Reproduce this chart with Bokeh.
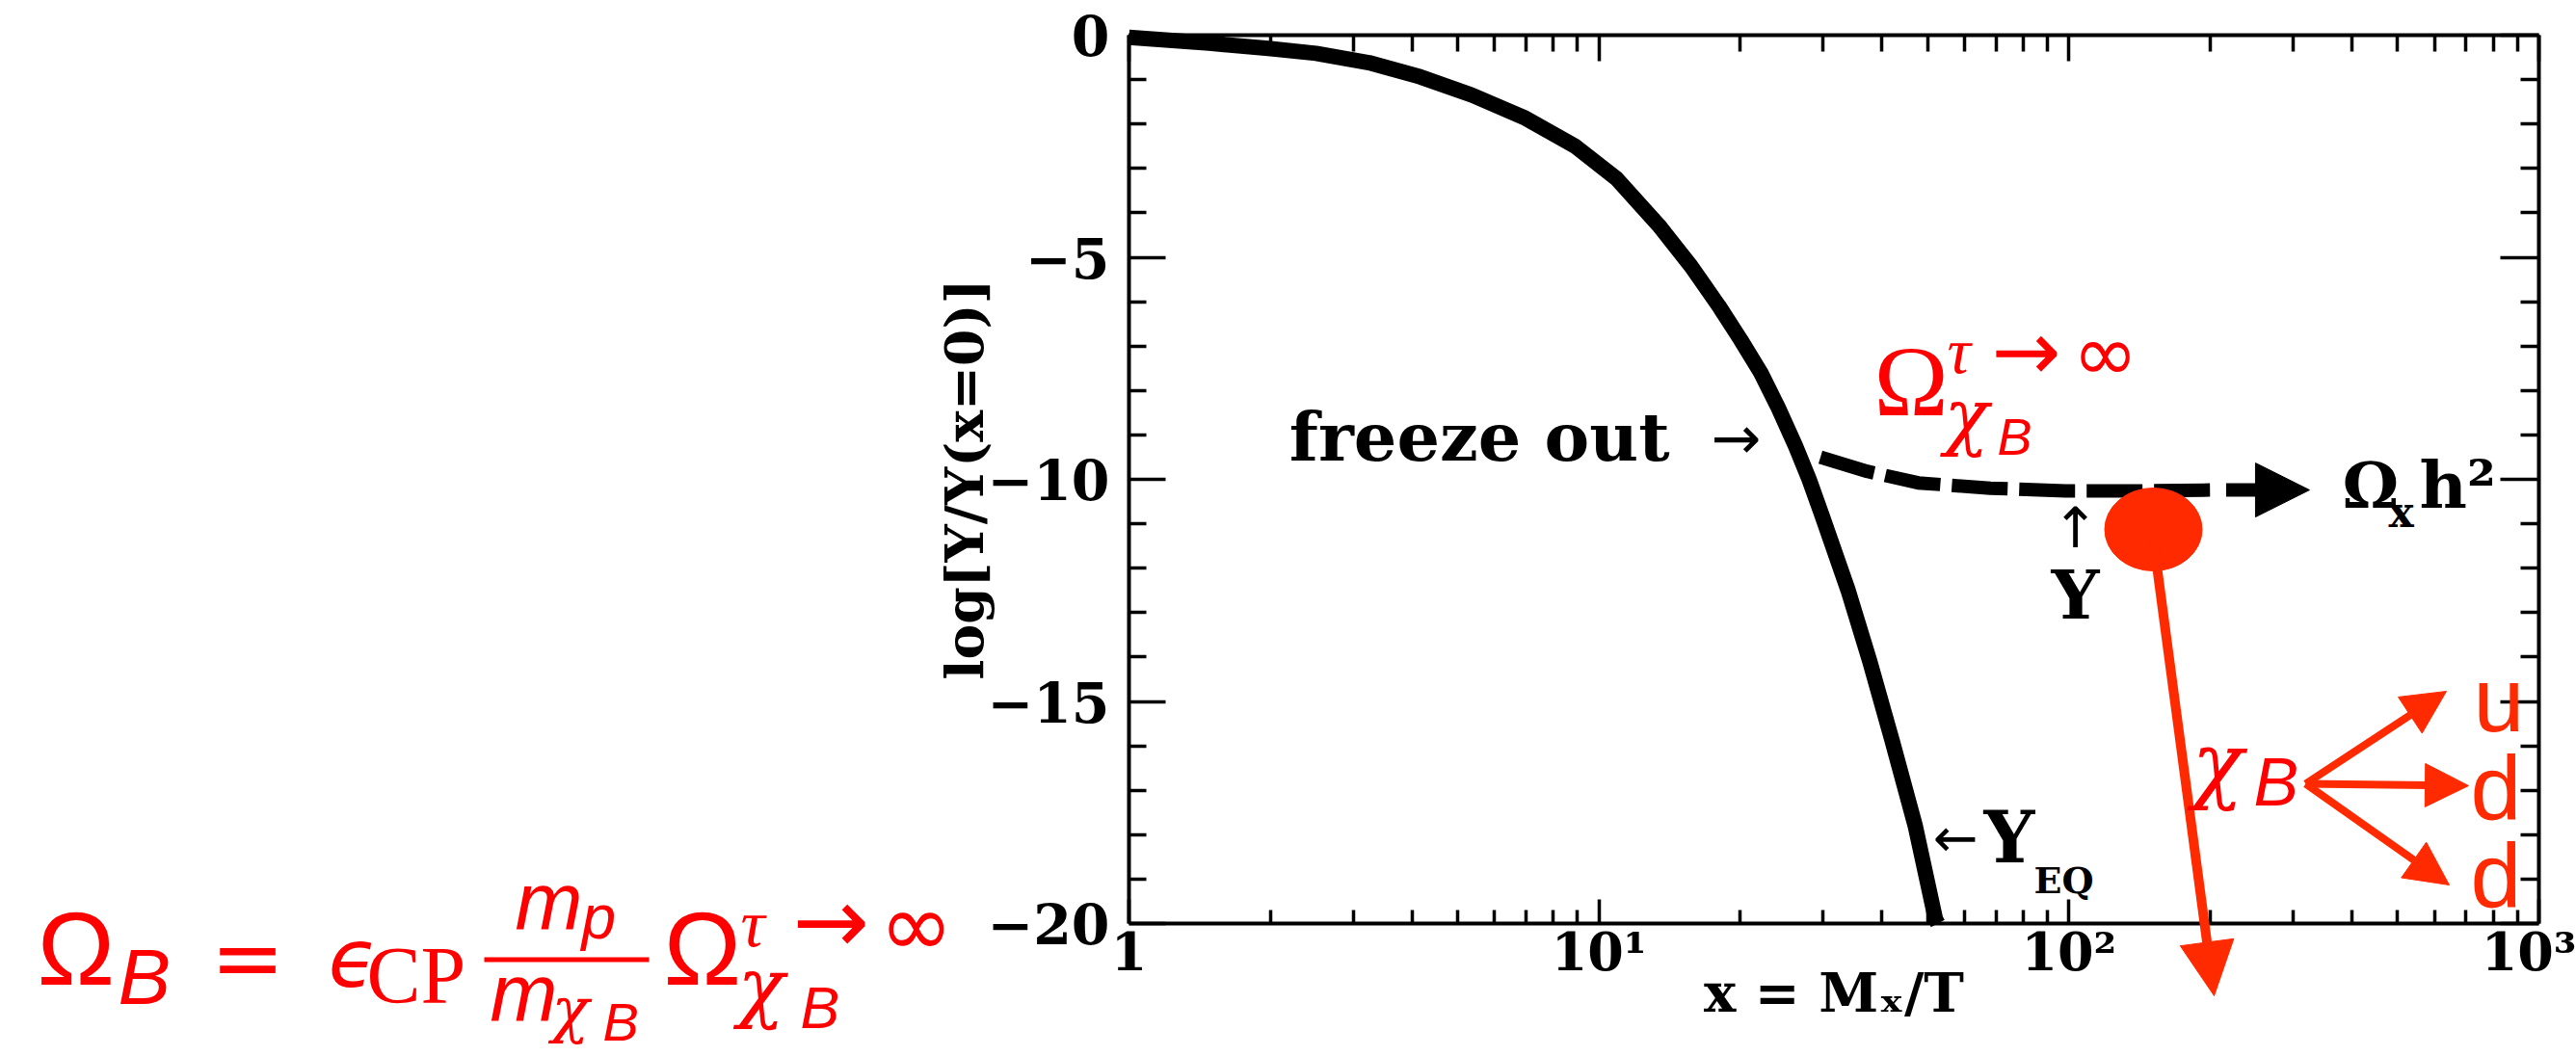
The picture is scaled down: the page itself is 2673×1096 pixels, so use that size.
from bokeh.plotting import figure
from bokeh.models import (Range1d, LogAxis, LinearAxis, FixedTicker, Label, Arrow,
                          NormalHead, BoxAnnotation)
from bokeh.embed import file_html
from bokeh.resources import INLINE

# ---------------- data ----------------
# equilibrium abundance Y_EQ : x = M/T , log[Y/Y(x=0)]
x_eq = [1.0, 1.48, 1.98, 2.5, 3.24, 4.17, 5.37, 6.92, 8.9, 10.9, 13.4, 15.7,
        18.0, 20.0, 22.1, 24.1, 26.2, 28.0, 29.8, 33.9, 37.7, 42.1, 47.1, 52.0, 52.6]
y_eq = [-0.05, -0.18, -0.30, -0.41, -0.62, -0.94, -1.35, -1.85, -2.5, -3.23, -4.28, -5.2,
        -6.1, -6.85, -7.6, -8.4, -9.25, -10.0, -10.8, -12.5, -14.1, -15.9, -17.8, -19.9, -20.0]
# actual abundance Y after freeze out (dashed)
x_y = [29.6, 37.2, 47.8, 68.1, 98.4, 141.6, 203.0]
y_y = [-9.5, -9.82, -10.08, -10.2, -10.26, -10.26, -10.24]
# arrow head of the dashed curve (x start, x tip)
x_arrow = [216.0, 325.0]

x_ticks = [1, 10, 100, 1000]
x_tick_labels = ["1", "10¹", "10²", "10³"]
x_minor = [2, 3, 4, 5, 6, 7, 8, 9, 20, 30, 40, 50, 60, 70, 80, 90,
           200, 300, 400, 500, 600, 700, 800, 900]
y_ticks = [-20, -15, -10, -5, 0]
y_tick_labels = ["−20", "−15", "−10", "−5", "0"]
y_minor = [-19, -18, -17, -16, -14, -13, -12, -11, -9, -8, -7, -6, -4, -3, -2, -1]

# ---------------- layout helpers ----------------
W, H = 2673, 1096
FL, FR, FT, FB = 1171, 2634, 36, 958
DEC = (FR - FL) / 3.0
UNIT = (FB - FT) / 20.0
K = 0.36   # label baseline correction (fraction of font size)


def X(px):
    return 10 ** ((px - FL) / DEC)


def Y(py):
    return -(py - FT) / UNIT


RED = "#FF0000"
RED2 = "#FF2A00"
SERIF = "DejaVu Serif"

p = figure(width=W, height=H, x_axis_type="log",
           x_range=Range1d(X(0), X(W)), y_range=Range1d(Y(H), Y(0)),
           x_axis_location=None, y_axis_location=None,
           output_backend="svg", toolbar_location=None, min_border=0)
p.outline_line_color = None
p.background_fill_color = "white"
p.border_fill_color = "white"
for g in p.grid:
    g.visible = False


def style(ax, major_in, minor_in, labels=True, size=54):
    ax.axis_line_width = 4
    ax.axis_line_color = "black"
    ax.major_tick_line_width = 3.5
    ax.minor_tick_line_width = 3.5
    ax.major_tick_line_color = "black"
    ax.minor_tick_line_color = "black"
    ax.major_tick_out = 0
    ax.minor_tick_out = 0
    ax.major_tick_in = major_in
    ax.minor_tick_in = minor_in
    ax.major_label_text_font = SERIF
    ax.major_label_text_font_style = "bold"
    ax.major_label_text_font_size = f"{size}px"
    ax.major_label_text_color = "black" if labels else None


xt = FixedTicker(ticks=x_ticks, minor_ticks=x_minor)
yt = FixedTicker(ticks=y_ticks, minor_ticks=y_minor)

bottom = LogAxis(fixed_location=-20, bounds=(1, 1000), ticker=xt,
                 major_label_overrides=dict(zip(x_ticks, x_tick_labels)),
                 major_label_standoff=-3,
                 axis_label="x = Mₓ/T", axis_label_standoff=-26,
                 axis_label_text_font=SERIF, axis_label_text_font_style="bold",
                 axis_label_text_font_size="56px", axis_label_text_color="black")
style(bottom, 25, 14)
p.add_layout(bottom, "below")

top = LogAxis(fixed_location=0, bounds=(1, 1000), ticker=xt)
style(top, 27, 17, labels=False)
p.add_layout(top, "above")

left = LinearAxis(fixed_location=1, bounds=(-20, 0), ticker=yt,
                  major_label_overrides=dict(zip(y_ticks, y_tick_labels)),
                  major_label_standoff=20,
                  axis_label="log[Y/Y(x=0)]", axis_label_standoff=-12,
                  axis_label_text_font=SERIF, axis_label_text_font_style="bold",
                  axis_label_text_font_size="55px", axis_label_text_color="black")
style(left, 38, 18, size=57)
p.add_layout(left, "left")

right = LinearAxis(fixed_location=1000, bounds=(-20, 0), ticker=yt)
style(right, 40, 19, labels=False)
p.add_layout(right, "right")

# ---------------- curves ----------------
p.line(x_eq, y_eq, line_width=16, line_color="black", line_join="round")
p.line(x_y, y_y, line_width=14, line_color="black", line_dash="58 12")
p.add_layout(Arrow(x_start=x_arrow[0], y_start=y_y[-1], x_end=x_arrow[1], y_end=y_y[-1],
                   line_width=14, line_color="black",
                   end=NormalHead(size=56, fill_color="black", line_color="black", line_width=1)))


def txt(text, px, py, size, font="Liberation Sans", style="normal", color="black",
        align="left"):
    p.add_layout(Label(x=X(px), y=Y(py - K * size), text=text, text_font=font,
                       text_font_style=style, text_font_size=f"{size}px",
                       text_color=color, text_align=align, text_baseline="alphabetic"))


# black annotations
txt("freeze out", 1732, 478, 70, SERIF, "bold", align="right")
txt("→", 1775, 476, 62, "DejaVu Sans")
txt("Ω", 2430, 527, 66, SERIF, "bold")
txt("x", 2478, 547, 44, SERIF, "bold")
txt("h²", 2510, 527, 68, SERIF, "bold")
txt("↑", 2153, 568, 58, "DejaVu Sans", align="center")
txt("Y", 2153, 642, 70, SERIF, "bold", align="center")
txt("←", 2005, 889, 56, "DejaVu Sans")
txt("Y", 2058, 895, 74, SERIF, "bold")
txt("EQ", 2110, 927, 38, SERIF, "bold")

# ---------------- red overlay ----------------
ellipse_x = [X(2234)]
ellipse_y = [Y(549)]
p.ellipse(x=ellipse_x, y=ellipse_y, width=101, height=86,
          width_units="screen", height_units="screen", fill_color=RED2, line_color=RED2)

p.add_layout(Arrow(x_start=X(2234), y_start=Y(560), x_end=X(2297), y_end=Y(1033),
                   line_width=10, line_color=RED2,
                   end=NormalHead(size=56, fill_color=RED2, line_color=RED2, line_width=1)))
for ex, ey in [(2538, 717), (2561, 815), (2541, 918)]:
    p.add_layout(Arrow(x_start=X(2392), y_start=Y(813), x_end=X(ex), y_end=Y(ey),
                       line_width=8, line_color=RED2,
                       end=NormalHead(size=45, fill_color=RED2, line_color=RED2, line_width=1)))

txt("χ", 2274, 824, 88, SERIF, "italic", RED)
txt("B", 2338, 837, 70, "Liberation Sans", "italic", RED)
txt("u", 2566, 760, 95, "Liberation Sans", color=RED2)
txt("d", 2563, 852, 95, "Liberation Sans", color=RED2)
txt("d", 2563, 943, 95, "Liberation Sans", color=RED2)

# Omega_chiB^{tau->inf} near the dashed curve
txt("Ω", 1944, 432, 104, "Liberation Serif", color=RED)
txt("τ", 2020, 388, 68, "Liberation Serif", "italic", RED)
txt("→", 2066, 394, 86, "DejaVu Sans", color=RED)
txt("∞", 2150, 396, 82, "DejaVu Sans", color=RED)
txt("χ", 2017, 458, 76, SERIF, "italic", RED)
txt("B", 2072, 472, 54, "Liberation Sans", "italic", RED)

# Omega_B = eps_CP m_p/m_chiB Omega^{tau->inf}_chiB
txt("Ω", 38, 1023, 108, "Liberation Sans", color=RED)
txt("B", 122, 1043, 82, "Liberation Sans", "italic", RED)
txt("=", 218, 1027, 92, "DejaVu Sans", color=RED)
txt("ϵ", 340, 1025, 84, "DejaVu Sans", "italic", RED)
txt("CP", 380, 1042, 84, "Liberation Serif", color=RED)
p.add_layout(BoxAnnotation(left=X(502), right=X(673), top=Y(993), bottom=Y(998),
                           fill_color=RED, fill_alpha=1, line_color=None))
txt("m", 534, 965, 84, "Liberation Sans", "italic", RED)
txt("p", 603, 975, 64, "Liberation Sans", "italic", RED)
txt("m", 508, 1060, 84, "Liberation Sans", "italic", RED)
txt("χ", 572, 1071, 64, SERIF, "italic", RED)
txt("B", 625, 1080, 56, "Liberation Sans", "italic", RED)
txt("Ω", 688, 1023, 108, "Liberation Sans", color=RED)
txt("τ", 768, 983, 70, "Liberation Serif", "italic", RED)
txt("→", 822, 990, 95, "DejaVu Sans", color=RED)
txt("∞", 912, 993, 92, "DejaVu Sans", color=RED)
txt("χ", 765, 1052, 80, SERIF, "italic", RED)
txt("B", 830, 1067, 61, "Liberation Sans", "italic", RED)

open("out.html", "w").write(file_html(p, INLINE, "freeze out"))
